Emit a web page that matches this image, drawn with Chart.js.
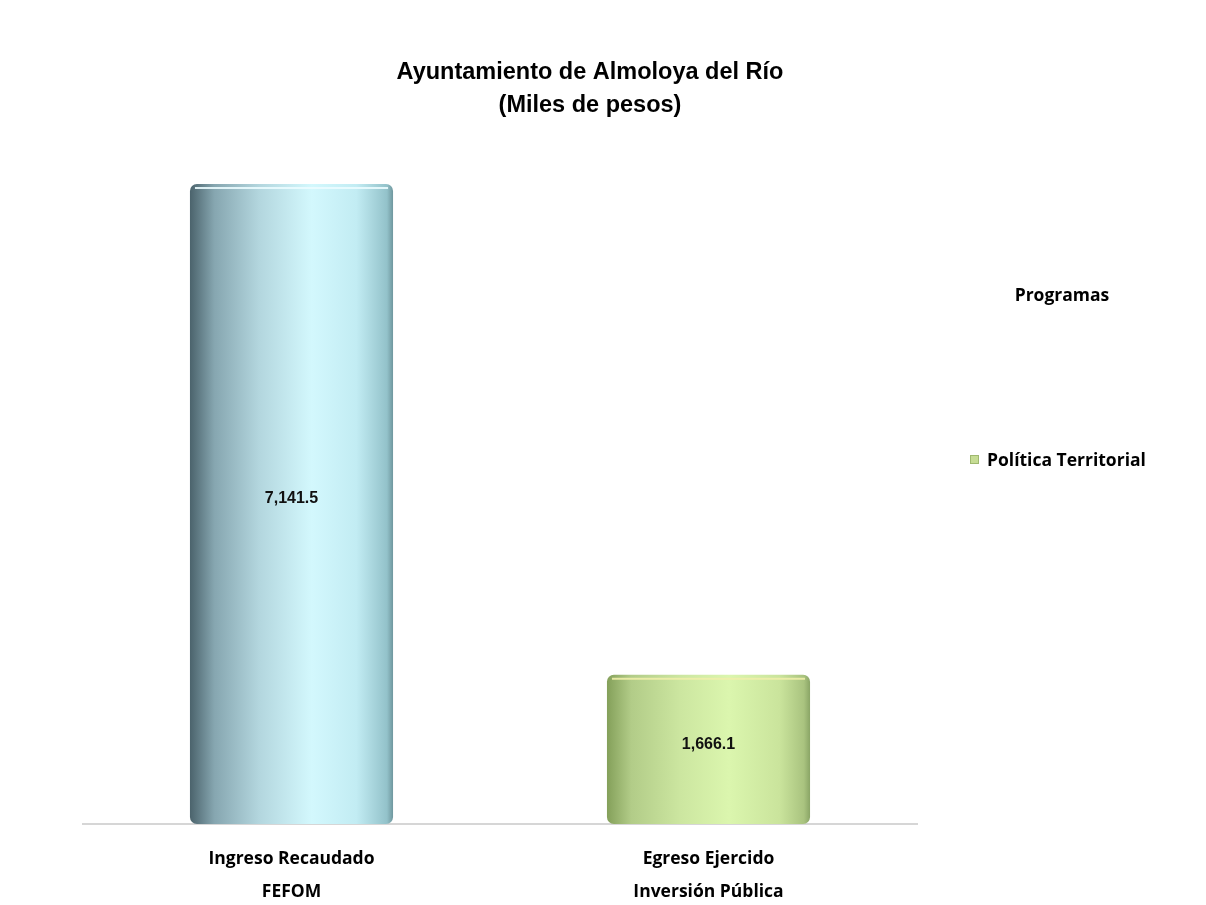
<!doctype html>
<html lang="es">
  <head>
    <meta charset="UTF-8" />
    <title>Ayuntamiento de Almoloya del Río</title>
    <script src="https://cdn.jsdelivr.net/npm/chart.js"></script>
    <style>
      body { margin: 0; background: #fff; }
    </style>
  </head>
  <body>
    <canvas id="myChart" width="1206" height="905"></canvas>
    <script>
      const categories = [['Ingreso Recaudado', 'FEFOM'], ['Egreso Ejercido', 'Inversión Pública']]
      const values = [7141.5, 1666.1]
      const seriesName = 'Política Territorial'
      const legendTitle = 'Programas'
      const titleLines = ['Ayuntamiento de Almoloya del Río', '(Miles de pesos)']

      const sans = '"Open Sans", sans-serif'
      const arial = '"Liberation Sans", Arial, sans-serif'

      // cylinder shading, left to right
      const shades = [
        [[0, '#4b636c'], [0.12, '#86a6b0'], [0.34, '#b3d6de'], [0.6, '#d3f8fd'], [0.82, '#c2ecf3'], [0.97, '#93c2ca'], [1, '#6f979e']],
        [[0, '#84a05a'], [0.12, '#b2cc88'], [0.36, '#cce6a0'], [0.6, '#dbf6ae'], [0.85, '#cae49c'], [0.97, '#a9c37f'], [1, '#8aa566']]
      ]
      const legendColor = '#c6dc94'

      const barFill = (context) => {
        const chart = context.chart
        const area = chart.chartArea
        if (!area) return '#cccccc'
        const xs = chart.scales.x
        const half = (xs.getPixelForValue(1) - xs.getPixelForValue(0)) * 0.487 / 2
        const cx = xs.getPixelForValue(context.dataIndex)
        const g = chart.ctx.createLinearGradient(cx - half, 0, cx + half, 0)
        shades[context.dataIndex].forEach(([p, c]) => g.addColorStop(p, c))
        return g
      }

      const extras = {
        id: 'extras',
        afterDatasetsDraw(chart) {
          const ctx = chart.ctx
          const meta = chart.getDatasetMeta(0)
          ctx.save()
          meta.data.forEach((bar, i) => {
            // top rim of the cylinder
            ctx.strokeStyle = i === 0 ? 'rgba(235,252,255,0.9)' : 'rgba(240,238,170,0.9)'
            ctx.lineWidth = 2
            ctx.beginPath()
            ctx.moveTo(bar.x - bar.width / 2 + 5, bar.y + 4)
            ctx.lineTo(bar.x + bar.width / 2 - 5, bar.y + 4)
            ctx.stroke()
            // value label
            ctx.fillStyle = '#111'
            ctx.font = 'bold 16px ' + arial
            ctx.textAlign = 'center'
            ctx.textBaseline = 'middle'
            const txt = values[i].toLocaleString('en-US', { minimumFractionDigits: 1 })
            ctx.fillText(txt, bar.x, (bar.y + bar.base) / 2 - 5)
          })
          // legend on the right
          const a = chart.chartArea
          ctx.fillStyle = '#000'
          ctx.font = 'bold 17.5px ' + sans
          ctx.textAlign = 'center'
          ctx.fillText(legendTitle, a.right + 145, 296)
          ctx.textAlign = 'left'
          ctx.fillText(seriesName, a.right + 70, 461)
          ctx.fillStyle = legendColor
          ctx.fillRect(a.right + 53, 455, 9, 9)
          ctx.strokeStyle = '#9fb86f'
          ctx.lineWidth = 1
          ctx.strokeRect(a.right + 53.5, 455.5, 8, 8)
          ctx.restore()
        }
      }

      const hidden = {
        grid: { display: false, drawTicks: false },
        border: { display: false },
        ticks: { display: false }
      }

      new Chart(document.getElementById('myChart'), {
        type: 'bar',
        data: {
          labels: categories,
          datasets: [
            {
              label: seriesName,
              data: values,
              backgroundColor: barFill,
              borderRadius: 7,
              borderSkipped: false,
              barPercentage: 1,
              categoryPercentage: 0.487
            }
          ]
        },
        options: {
          responsive: false,
          animation: false,
          layout: { padding: { left: 0, right: 26, top: 0, bottom: 0 } },
          plugins: {
            legend: { display: false },
            tooltip: { enabled: false },
            title: {
              display: true,
              text: titleLines,
              color: '#000',
              font: { family: arial, size: 23.5, weight: 'bold', lineHeight: 1.4 },
              padding: { top: 56, bottom: 30 }
            }
          },
          scales: {
            x: {
              grid: { display: false, drawTicks: false },
              border: { display: true, color: '#d6d6d6', width: 2 },
              ticks: {
                color: '#000',
                padding: 19,
                font: { family: sans, size: 17.5, weight: 'bold', lineHeight: 1.886 }
              },
              afterFit: (s) => { s.height = 81 }
            },
            y: {
              ...hidden,
              min: 0,
              max: 7500,
              afterFit: (s) => { s.width = 83 }
            },
            yRight: {
              ...hidden,
              position: 'right',
              min: 0,
              max: 7500,
              afterFit: (s) => { s.width = 263 }
            }
          }
        },
        plugins: [extras]
      })
    </script>
  </body>
</html>
